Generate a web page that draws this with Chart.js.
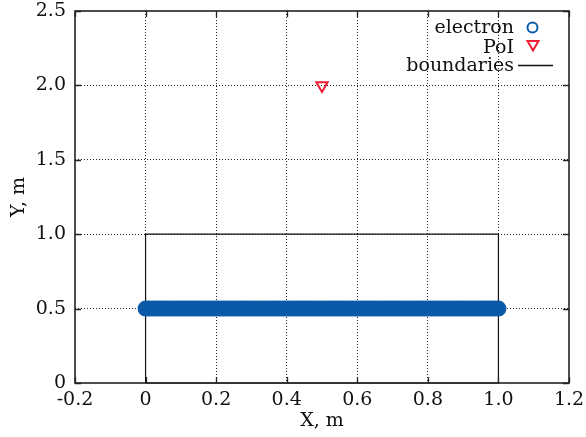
<!DOCTYPE html>
<html>
<head>
<meta charset="utf-8">
<script src="https://cdn.jsdelivr.net/npm/chart.js@4/dist/chart.umd.min.js"></script>
<style>
  html, body { margin: 0; padding: 0; background: #fff; }
  #wrap { width: 586px; height: 437px; }
</style>
</head>
<body>
<div id="wrap"><canvas id="c" width="586" height="437"></canvas></div>
<script>
// ---- data ----
const electronX = [0.00,0.01,0.02,0.03,0.04,0.05,0.06,0.07,0.08,0.09,
  0.10,0.11,0.12,0.13,0.14,0.15,0.16,0.17,0.18,0.19,
  0.20,0.21,0.22,0.23,0.24,0.25,0.26,0.27,0.28,0.29,
  0.30,0.31,0.32,0.33,0.34,0.35,0.36,0.37,0.38,0.39,
  0.40,0.41,0.42,0.43,0.44,0.45,0.46,0.47,0.48,0.49,
  0.50,0.51,0.52,0.53,0.54,0.55,0.56,0.57,0.58,0.59,
  0.60,0.61,0.62,0.63,0.64,0.65,0.66,0.67,0.68,0.69,
  0.70,0.71,0.72,0.73,0.74,0.75,0.76,0.77,0.78,0.79,
  0.80,0.81,0.82,0.83,0.84,0.85,0.86,0.87,0.88,0.89,
  0.90,0.91,0.92,0.93,0.94,0.95,0.96,0.97,0.98,0.99,1.00];
const electronY = 0.5;
const poiX = [0.5];
const poiY = [2.0];
const boundaryX = [0, 1, 1, 0, 0];
const boundaryY = [0, 0, 1, 1, 0];
const xTickValues = [-0.2, 0, 0.2, 0.4, 0.6, 0.8, 1.0, 1.2];
const xTickLabels = ["\u22120.2", "0", "0.2", "0.4", "0.6", "0.8", "1.0", "1.2"];
const yTickValues = [0, 0.5, 1.0, 1.5, 2.0, 2.5];
const yTickLabels = ["0", "0.5", "1.0", "1.5", "2.0", "2.5"];
const seriesNames = ["electron", "PoI", "boundaries"];

const BLUE = "#0a5aa8";
const RED = "#ee1f33";
const FONT = "'DejaVu Serif', serif";
const FSIZE = 19;
const TEXT = "#111";

const electronData = electronX.map(x => ({x: x, y: electronY}));
const poiData = poiX.map((x, i) => ({x: x, y: poiY[i]}));
const boundaryData = boundaryX.map((x, i) => ({x: x, y: boundaryY[i]}));

const fixTicks = (values, labels) => (scale) => {
  scale.ticks = values.map((v, i) => ({value: v, label: labels[i]}));
};

const framePlugin = {
  id: 'frame',
  afterDraw(chart) {
    const {ctx, chartArea: a, scales} = chart;
    ctx.save();
    ctx.strokeStyle = '#222';
    ctx.lineWidth = 1.3;
    ctx.beginPath();
    const tl = 6;
    xTickValues.forEach(v => {
      const px = Math.round(scales.x.getPixelForValue(v)) + 0.5;
      ctx.moveTo(px, a.bottom); ctx.lineTo(px, a.bottom - tl);
      ctx.moveTo(px, a.top); ctx.lineTo(px, a.top + tl);
    });
    yTickValues.forEach(v => {
      const py = Math.round(scales.y.getPixelForValue(v)) + 0.5;
      ctx.moveTo(a.left, py); ctx.lineTo(a.left + tl, py);
      ctx.moveTo(a.right, py); ctx.lineTo(a.right - tl, py);
    });
    ctx.stroke();
    ctx.lineWidth = 1.6;
    ctx.strokeRect(a.left, a.top, a.right - a.left, a.bottom - a.top);
    ctx.restore();

    // legend (inside plot, top right)
    ctx.save();
    ctx.font = FSIZE + "px " + FONT;
    ctx.fillStyle = TEXT;
    ctx.textAlign = 'right';
    ctx.textBaseline = 'alphabetic';
    const tx = 514;
    const rows = [33, 52.5, 70.5];
    seriesNames.forEach((n, i) => ctx.fillText(n, tx, rows[i]));
    // electron symbol
    ctx.strokeStyle = BLUE; ctx.lineWidth = 2;
    ctx.beginPath(); ctx.arc(532.5, 27.5, 5, 0, Math.PI * 2); ctx.stroke();
    // PoI symbol
    ctx.strokeStyle = RED; ctx.lineWidth = 2;
    ctx.beginPath();
    ctx.moveTo(527.5, 41); ctx.lineTo(538.5, 41); ctx.lineTo(533, 50.5); ctx.closePath();
    ctx.stroke();
    // boundaries symbol
    ctx.strokeStyle = '#111'; ctx.lineWidth = 1.3;
    ctx.beginPath(); ctx.moveTo(518, 65.5); ctx.lineTo(553, 65.5); ctx.stroke();
    ctx.restore();
  }
};

new Chart(document.getElementById('c'), {
  type: 'scatter',
  data: {
    datasets: [
      {
        label: seriesNames[2], data: boundaryData, showLine: true,
        borderColor: '#111', borderWidth: 1.2, pointRadius: 0, fill: false, order: 3
      },
      {
        label: seriesNames[0], data: electronData, showLine: false,
        pointStyle: 'circle', pointRadius: 6.5, borderWidth: 3,
        borderColor: BLUE, backgroundColor: BLUE, order: 2
      },
      {
        label: seriesNames[1], data: poiData, showLine: false,
        pointStyle: 'triangle', rotation: 180, pointRadius: 6.5, borderWidth: 2,
        borderColor: RED, backgroundColor: 'rgba(0,0,0,0)', order: 1
      }
    ]
  },
  options: {
    responsive: false,
    animation: false,
    devicePixelRatio: 1,
    layout: { padding: { left: 0, right: 17, top: 11, bottom: 0 } },
    plugins: { legend: { display: false }, tooltip: { enabled: false } },
    elements: { point: { hoverRadius: 6.5 } },
    datasets: { scatter: { clip: false } },
    scales: {
      x: {
        type: 'linear', min: -0.2, max: 1.2,
        afterBuildTicks: fixTicks(xTickValues, xTickLabels),
        afterFit: (s) => { s.height = 54; s.paddingLeft = 0; s.paddingRight = 0; },
        ticks: { font: { family: FONT, size: FSIZE }, color: TEXT, padding: 6, maxRotation: 0, autoSkip: false },
        grid: {
          drawTicks: false, lineWidth: 1,
          color: (c) => (c.index === 0 || c.index === xTickValues.length - 1) ? 'rgba(0,0,0,0)' : '#222'
        },
        border: { display: false, dash: [1, 2] },
        title: { display: true, text: 'X, m', font: { family: FONT, size: FSIZE }, color: TEXT, padding: { top: 0, bottom: 5 } }
      },
      y: {
        type: 'linear', min: 0, max: 2.5,
        afterBuildTicks: fixTicks(yTickValues, yTickLabels),
        afterFit: (s) => { s.width = 75; s.paddingTop = 0; s.paddingBottom = 0; },
        ticks: { font: { family: FONT, size: FSIZE }, color: TEXT, padding: 9, autoSkip: false },
        grid: {
          drawTicks: false, lineWidth: 1,
          color: (c) => (c.index === 0 || c.index === yTickValues.length - 1) ? 'rgba(0,0,0,0)' : '#222'
        },
        border: { display: false, dash: [1, 2] },
        title: { display: true, text: 'Y, m', font: { family: FONT, size: FSIZE }, color: TEXT, padding: { top: 8, bottom: 0 } }
      }
    }
  },
  plugins: [framePlugin]
});
</script>
</body>
</html>
